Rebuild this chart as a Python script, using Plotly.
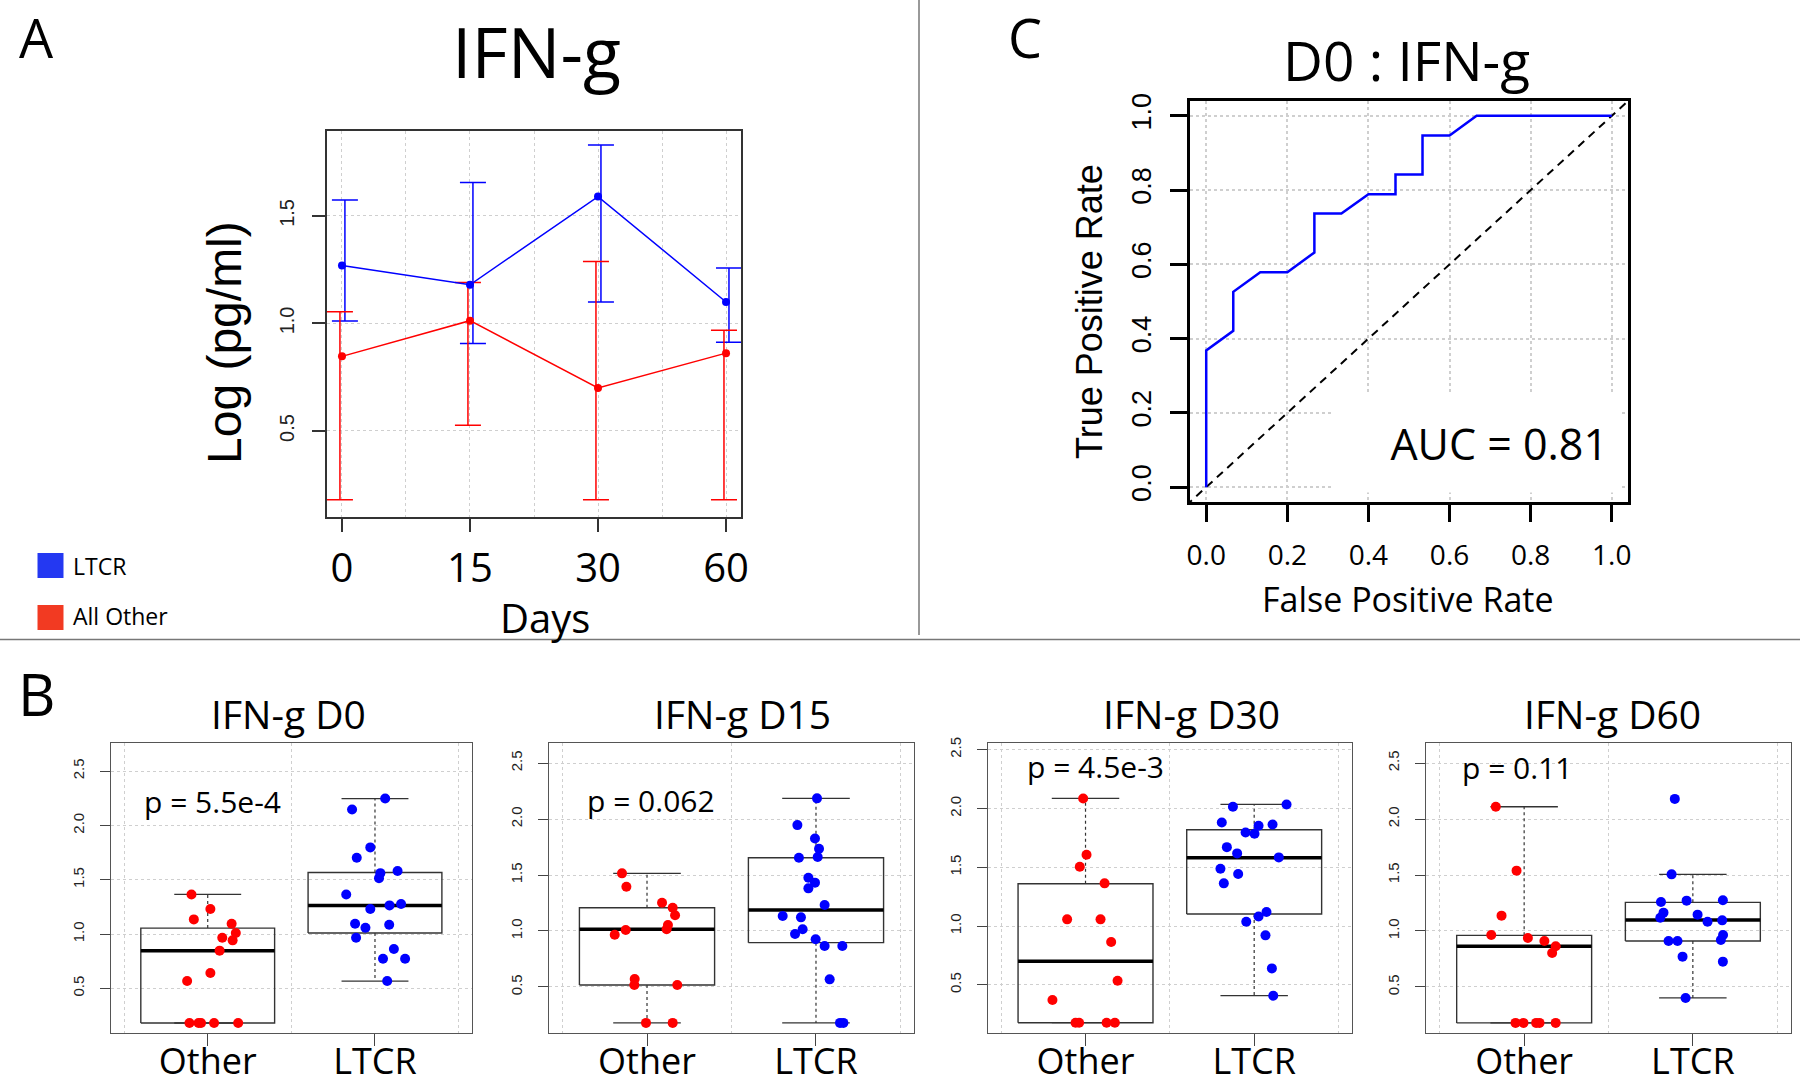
import plotly.graph_objects as go

W, H = 1800, 1086
MYR = "Open Sans"
ARL = "Liberation Sans"

# ---------------- Panel A data ----------------
days = ["0", "15", "30", "60"]
ltcr_mean = [1.27, 1.18, 1.59, 1.10]
ltcr_upper = [1.574, 1.656, 1.83, 1.258]
ltcr_lower = [1.012, 0.907, 1.10, 0.913]
other_mean = [0.847, 1.013, 0.70, 0.862]
other_upper = [1.055, 1.19, 1.288, 0.968]
other_lower = [0.18, 0.527, 0.18, 0.18]

# ---------------- Panel C data ----------------
roc_fpr = [0, 0, 0.0667, 0.0667, 0.1333, 0.2, 0.2667, 0.2667, 0.3333, 0.4,
           0.4667, 0.4667, 0.5333, 0.5333, 0.6, 0.6667, 1.0]
roc_tpr = [0, 0.368, 0.421, 0.526, 0.579, 0.579, 0.632, 0.737, 0.737, 0.789,
           0.789, 0.842, 0.842, 0.947, 0.947, 1.0, 1.0]
chance = [0, 1]
auc_label = "AUC = 0.81"

# ---------------- Panel B data ----------------
groups = ["Other", "LTCR"]
box_titles = ["IFN-g D0", "IFN-g D15", "IFN-g D30", "IFN-g D60"]
p_labels = ["p = 5.5e-4", "p = 0.062", "p = 4.5e-3", "p = 0.11"]

d0_other = [1.365, 1.23, 1.135, 1.095, 1.009, 0.966, 0.942, 0.847, 0.641, 0.567,
            0.181, 0.181, 0.181, 0.181, 0.181]
d0_other_jit = [-0.097, 0.016, -0.083, 0.143, 0.168, 0.087, 0.149, 0.071, 0.016, -0.123,
                -0.109, -0.055, -0.040, 0.038, 0.182]
d0_ltcr = [2.248, 2.147, 1.798, 1.702, 1.58, 1.561, 1.515, 1.365, 1.264, 1.276,
           1.23, 1.095, 1.086, 1.058, 0.966, 0.862, 0.773, 0.773, 0.567]
d0_ltcr_jit = [0.061, -0.137, -0.028, -0.109, 0.135, 0.032, 0.024, -0.172, 0.087, 0.156,
               -0.028, -0.119, 0.085, -0.057, -0.113, 0.113, 0.048, 0.180, 0.073]

d15_other = [1.515, 1.396, 1.253, 1.208, 1.14, 1.054, 1.015, 1.009, 0.967, 0.571,
             0.518, 0.518, 0.179, 0.179]
d15_other_jit = [-0.148, -0.122, 0.089, 0.152, 0.166, 0.124, 0.116, -0.126, -0.191, -0.073,
                 -0.075, 0.179, -0.006, 0.152]
d15_ltcr = [2.185, 1.946, 1.827, 1.735, 1.661, 1.655, 1.476, 1.432, 1.381, 1.232,
            1.134, 1.122, 1.015, 0.973, 0.926, 0.866, 0.866, 0.568, 0.179, 0.179]
d15_ltcr_jit = [0.006, -0.110, -0.006, 0.018, 0.010, -0.101, -0.045, -0.006, -0.045, 0.051,
                -0.197, -0.089, -0.079, -0.124, -0.002, 0.051, 0.156, 0.081, 0.142, 0.162]

d30_other = [2.085, 1.606, 1.504, 1.363, 1.057, 1.057, 0.864, 0.535, 0.371,
             0.178, 0.178, 0.178, 0.178]
d30_other_jit = [-0.014, 0.006, -0.034, 0.113, -0.109, 0.089, 0.152, 0.190, -0.196,
                 -0.059, -0.038, 0.125, 0.174]
d30_ltcr = [2.034, 2.014, 1.881, 1.864, 1.853, 1.796, 1.785, 1.671, 1.618, 1.584,
            1.487, 1.442, 1.363, 1.119, 1.082, 1.037, 0.921, 0.64, 0.408]
d30_ltcr_jit = [0.192, -0.126, -0.192, 0.109, 0.026, -0.051, 0.002, -0.162, -0.101, 0.146,
                -0.200, -0.095, -0.180, 0.073, 0.026, -0.047, 0.067, 0.105, 0.113]

d60_other = [2.11, 1.539, 1.137, 0.964, 0.9375, 0.911, 0.863, 0.804,
             0.179, 0.179, 0.179, 0.179, 0.179]
d60_other_jit = [-0.168, -0.045, -0.134, -0.195, 0.022, 0.120, 0.187, 0.166,
                 -0.051, -0.004, 0.071, 0.091, 0.187]
d60_ltcr = [2.18, 1.506, 1.259, 1.271, 1.274, 1.164, 1.119, 1.146, 1.083, 1.095,
            0.964, 0.92, 0.911, 0.911, 0.771, 0.726, 0.402]
d60_ltcr_jit = [-0.107, -0.126, -0.189, -0.037, 0.178, -0.174, -0.193, 0.028, 0.087, 0.174,
                0.179, 0.166, -0.144, -0.091, -0.061, 0.178, -0.043]

# box statistics: [lower whisker, Q1, median, Q3, upper whisker]
d0_other_box = [0.181, 0.181, 0.847, 1.055, 1.365]
d0_ltcr_box = [0.567, 1.009, 1.264, 1.567, 2.248]
d15_other_box = [0.179, 0.518, 1.015, 1.208, 1.515]
d15_ltcr_box = [0.179, 0.896, 1.1875, 1.655, 2.185]
d30_other_box = [0.178, 0.178, 0.70, 1.36, 2.085]
d30_ltcr_box = [0.408, 1.102, 1.581, 1.819, 2.034]
d60_other_box = [0.179, 0.179, 0.863, 0.961, 2.11]
d60_ltcr_box = [0.402, 0.911, 1.098, 1.256, 1.506]

box_yranges = [[0.086, 2.764], [0.086, 2.684], [0.088, 2.561], [0.086, 2.684]]

panels_b = [
    (d0_other, d0_other_jit, d0_other_box, d0_ltcr, d0_ltcr_jit, d0_ltcr_box),
    (d15_other, d15_other_jit, d15_other_box, d15_ltcr, d15_ltcr_jit, d15_ltcr_box),
    (d30_other, d30_other_jit, d30_other_box, d30_ltcr, d30_ltcr_jit, d30_ltcr_box),
    (d60_other, d60_other_jit, d60_other_box, d60_ltcr, d60_ltcr_jit, d60_ltcr_box),
]


def px(x):
    return x / W


def py(y):
    return 1 - y / H


BLUE = "#0000FF"
RED = "#FF0000"
GRID = "#cfcfcf"

fig = go.Figure()

# ---------------- Panel A traces ----------------
pos = [1, 2, 3, 4]
fig.add_trace(go.Scatter(
    x=[p + 0.023 for p in pos], y=ltcr_mean, mode="markers",
    marker=dict(size=1, color="rgba(0,0,0,0)"),
    error_y=dict(type="data", symmetric=False,
                 array=[u - m for u, m in zip(ltcr_upper, ltcr_mean)],
                 arrayminus=[m - l for m, l in zip(ltcr_mean, ltcr_lower)],
                 color=BLUE, thickness=1.5, width=13),
    xaxis="x", yaxis="y", showlegend=False, hoverinfo="skip"))
fig.add_trace(go.Scatter(
    x=[p - 0.016 for p in pos], y=other_mean, mode="markers",
    marker=dict(size=1, color="rgba(0,0,0,0)"),
    error_y=dict(type="data", symmetric=False,
                 array=[u - m for u, m in zip(other_upper, other_mean)],
                 arrayminus=[m - l for m, l in zip(other_mean, other_lower)],
                 color=RED, thickness=1.5, width=13),
    xaxis="x", yaxis="y", showlegend=False, hoverinfo="skip"))
fig.add_trace(go.Scatter(x=pos, y=ltcr_mean, mode="lines+markers",
                         line=dict(color=BLUE, width=1.5), marker=dict(size=8, color=BLUE),
                         xaxis="x", yaxis="y", showlegend=False, name="LTCR"))
fig.add_trace(go.Scatter(x=pos, y=other_mean, mode="lines+markers",
                         line=dict(color=RED, width=1.5), marker=dict(size=8, color=RED),
                         xaxis="x", yaxis="y", showlegend=False, name="All Other"))

# ---------------- Panel C traces ----------------
fig.add_trace(go.Scatter(x=[-0.05, 1.05], y=[c * 1.05 - 0.05 * (1 - c) for c in chance],
                         mode="lines", line=dict(color="black", width=2, dash="8px,6px"),
                         xaxis="x2", yaxis="y2", showlegend=False, hoverinfo="skip"))
fig.add_trace(go.Scatter(x=roc_fpr, y=roc_tpr, mode="lines",
                         line=dict(color=BLUE, width=2.5),
                         xaxis="x2", yaxis="y2", showlegend=False))

# ---------------- Panel B traces ----------------
BOXC = "#333333"
for i, (ov, oj, ob, lv, lj, lb) in enumerate(panels_b):
    xa, ya = "x%d" % (i + 3), "y%d" % (i + 3)
    for c, b in ((1, ob), (2, lb)):
        lo, q1, med, q3, hi = b
        fig.add_trace(go.Scatter(x=[c, c, None, c, c], y=[q3, hi, None, q1, lo], mode="lines",
                                 line=dict(color=BOXC, width=1.2, dash="dot"),
                                 xaxis=xa, yaxis=ya, showlegend=False, hoverinfo="skip"))
        fig.add_trace(go.Scatter(x=[c - 0.2, c + 0.2, None, c - 0.2, c + 0.2],
                                 y=[hi, hi, None, lo, lo], mode="lines",
                                 line=dict(color=BOXC, width=1.3),
                                 xaxis=xa, yaxis=ya, showlegend=False, hoverinfo="skip"))
        fig.add_trace(go.Scatter(x=[c - 0.4, c + 0.4, c + 0.4, c - 0.4, c - 0.4],
                                 y=[q1, q1, q3, q3, q1], mode="lines",
                                 line=dict(color=BOXC, width=1.4),
                                 xaxis=xa, yaxis=ya, showlegend=False, hoverinfo="skip"))
        fig.add_trace(go.Scatter(x=[c - 0.4, c + 0.4], y=[med, med], mode="lines",
                                 line=dict(color="black", width=3.5),
                                 xaxis=xa, yaxis=ya, showlegend=False, hoverinfo="skip"))
    fig.add_trace(go.Scatter(x=[1 + j for j in oj], y=ov, mode="markers",
                             marker=dict(size=10, color=RED),
                             xaxis=xa, yaxis=ya, showlegend=False))
    fig.add_trace(go.Scatter(x=[2 + j for j in lj], y=lv, mode="markers",
                             marker=dict(size=10, color=BLUE),
                             xaxis=xa, yaxis=ya, showlegend=False))

# ---------------- Layout / axes ----------------
layout = dict(template="none", width=W, height=H, autosize=False,
              margin=dict(l=0, r=0, t=0, b=0, pad=0),
              paper_bgcolor="white", plot_bgcolor="white", showlegend=False)

grid_common = dict(gridcolor=GRID, griddash="dot", gridwidth=1, zeroline=False, automargin=False)

layout["xaxis"] = dict(domain=[px(327), px(741)], range=[0.883, 4.117], anchor="y",
                       tickmode="array", tickvals=pos, ticktext=days,
                       ticks="outside", ticklen=13, tickwidth=1.5, tickcolor="#333",
                       showline=True, mirror=True, linecolor="#333", linewidth=1.5,
                       showgrid=True, tickfont=dict(family=MYR, size=40, color="black"),
                       ticklabelstandoff=2,
                       minor=dict(tickmode="array", tickvals=[1.5, 2.5, 3.5], showgrid=True,
                                  gridcolor=GRID, griddash="dot", gridwidth=1, ticks=""),
                       **grid_common)
layout["yaxis"] = dict(domain=[py(517), py(131)], range=[0.10, 1.895], anchor="x",
                       tickmode="array", tickvals=[0.5, 1.0, 1.5], ticktext=["0.5", "1.0", "1.5"],
                       tickangle=-90, ticks="outside", ticklen=13, tickwidth=1.5, tickcolor="#333",
                       showline=True, mirror=True, linecolor="#333", linewidth=1.5,
                       showgrid=True, tickfont=dict(family=ARL, size=20, color="#222"),
                       ticklabelstandoff=10, **grid_common)

roc_ticks = [0, 0.2, 0.4, 0.6, 0.8, 1.0]
roc_text = ["0.0", "0.2", "0.4", "0.6", "0.8", "1.0"]
layout["xaxis2"] = dict(domain=[px(1190), px(1628)], range=[-0.04, 1.04], anchor="y2",
                        tickmode="array", tickvals=roc_ticks, ticktext=roc_text,
                        ticks="outside", ticklen=17, tickwidth=2.5, tickcolor="black",
                        showline=True, mirror=True, linecolor="black", linewidth=2.5,
                        showgrid=True, tickfont=dict(family=MYR, size=28, color="black"),
                        ticklabelstandoff=10, automargin=False,
                        gridcolor=GRID, griddash="dot", gridwidth=1.6, zeroline=False)
layout["yaxis2"] = dict(domain=[py(502), py(101)], range=[-0.04, 1.04], anchor="x2",
                        tickmode="array", tickvals=roc_ticks, ticktext=roc_text,
                        tickangle=-90, ticks="outside", ticklen=17, tickwidth=2.5, tickcolor="black",
                        showline=True, mirror=True, linecolor="black", linewidth=2.5,
                        showgrid=True, tickfont=dict(family=ARL, size=27, color="black"),
                        ticklabelstandoff=8, automargin=False,
                        gridcolor=GRID, griddash="dot", gridwidth=1.6, zeroline=False)

b_xdomains = [(110.7, 472), (549, 914), (987.7, 1352), (1426.3, 1790.7)]
for i, (x0, x1) in enumerate(b_xdomains):
    k = i + 3
    layout["xaxis%d" % k] = dict(domain=[px(x0), px(x1)], range=[0.42, 2.58], anchor="y%d" % k,
                                 tickmode="array", tickvals=[1, 2], ticktext=groups,
                                 ticks="outside", ticklen=12, tickwidth=1.2, tickcolor="#444",
                                 showline=True, mirror=True, linecolor="#555", linewidth=1.3,
                                 showgrid=False, zeroline=False, automargin=False,
                                 tickfont=dict(family=MYR, size=36, color="black"),
                                 ticklabelstandoff=-16,
                                 minor=dict(tickmode="array", tickvals=[0.5, 1.5, 2.5], showgrid=True,
                                            gridcolor=GRID, griddash="dot", gridwidth=1, ticks=""))
    layout["yaxis%d" % k] = dict(domain=[py(1033.3), py(742.5)], range=box_yranges[i],
                                 anchor="x%d" % k,
                                 tickmode="array", tickvals=[0.5, 1.0, 1.5, 2.0, 2.5],
                                 ticktext=["0.5", "1.0", "1.5", "2.0", "2.5"],
                                 tickangle=-90, ticks="outside", ticklen=10, tickwidth=1.2,
                                 tickcolor="#444",
                                 showline=True, mirror=True, linecolor="#555", linewidth=1.3,
                                 showgrid=True, tickfont=dict(family=ARL, size=15, color="#222"),
                                 ticklabelstandoff=10, **grid_common)

fig.update_layout(**layout)

# ---------------- Annotations ----------------
ann = []


def txt(text, x, y, size, family=MYR, xanchor="center", yanchor="middle", angle=0, **kw):
    ann.append(dict(text=text, x=px(x), y=py(y), xref="paper", yref="paper",
                    showarrow=False, xanchor=xanchor, yanchor=yanchor, textangle=angle,
                    font=dict(family=family, size=size, color="black"), **kw))


txt("A", 36, 37, 54)
txt("B", 36, 693, 58)
txt("C", 1025, 37, 54)
txt("IFN-g", 536, 51, 70)
txt("Log (pg/ml)", 224, 343, 48, family=ARL, angle=-90)
txt("Days", 545, 617, 40)
txt("LTCR", 71, 566, 23, xanchor="left")
txt("All Other", 71, 616, 23, xanchor="left")
txt("D0 : IFN-g", 1406, 59, 55)
txt("True Positive Rate", 1090, 312, 36, family=ARL, angle=-90)
txt("False Positive Rate", 1408, 599, 34)

b_title_x = [288, 742, 1191, 1612]
for i, t in enumerate(box_titles):
    txt(t, b_title_x[i], 713, 39)

p_xy = [(0.608, 2.224), (0.633, 2.17), (0.64, 2.36), (0.62, 2.458)]
for i, t in enumerate(p_labels):
    k = i + 3
    ann.append(dict(text=t, x=p_xy[i][0], y=p_xy[i][1], xref="x%d" % k, yref="y%d" % k,
                    showarrow=False, xanchor="left", yanchor="middle",
                    font=dict(family=MYR, size=30, color="black")))

ann.append(dict(text=auc_label, x=1.022, y=0.118, xref="x2", yref="y2", showarrow=False,
                xanchor="right", yanchor="middle", align="right", bgcolor="white",
                width=262, height=74, borderpad=12,
                font=dict(family=MYR, size=43, color="black")))

fig.update_layout(annotations=ann)

# ---------------- Shapes: separators and legend keys ----------------
shapes = [
    dict(type="line", xref="paper", yref="paper", x0=px(919), x1=px(919), y0=py(635), y1=1,
         line=dict(color="#777", width=1.5)),
    dict(type="line", xref="paper", yref="paper", x0=0, x1=1, y0=py(639.5), y1=py(639.5),
         line=dict(color="#777", width=1.5)),
    dict(type="rect", xref="paper", yref="paper", x0=px(37.5), x1=px(63.5), y0=py(578), y1=py(553),
         fillcolor="#2438F2", line=dict(width=0)),
    dict(type="rect", xref="paper", yref="paper", x0=px(37.5), x1=px(63.5), y0=py(630), y1=py(605),
         fillcolor="#F23A22", line=dict(width=0)),
]
fig.update_layout(shapes=shapes)

fig.write_html("out.html", config={"displayModeBar": False},
               post_script="document.body.style.margin='0';document.body.style.overflow='hidden';")
